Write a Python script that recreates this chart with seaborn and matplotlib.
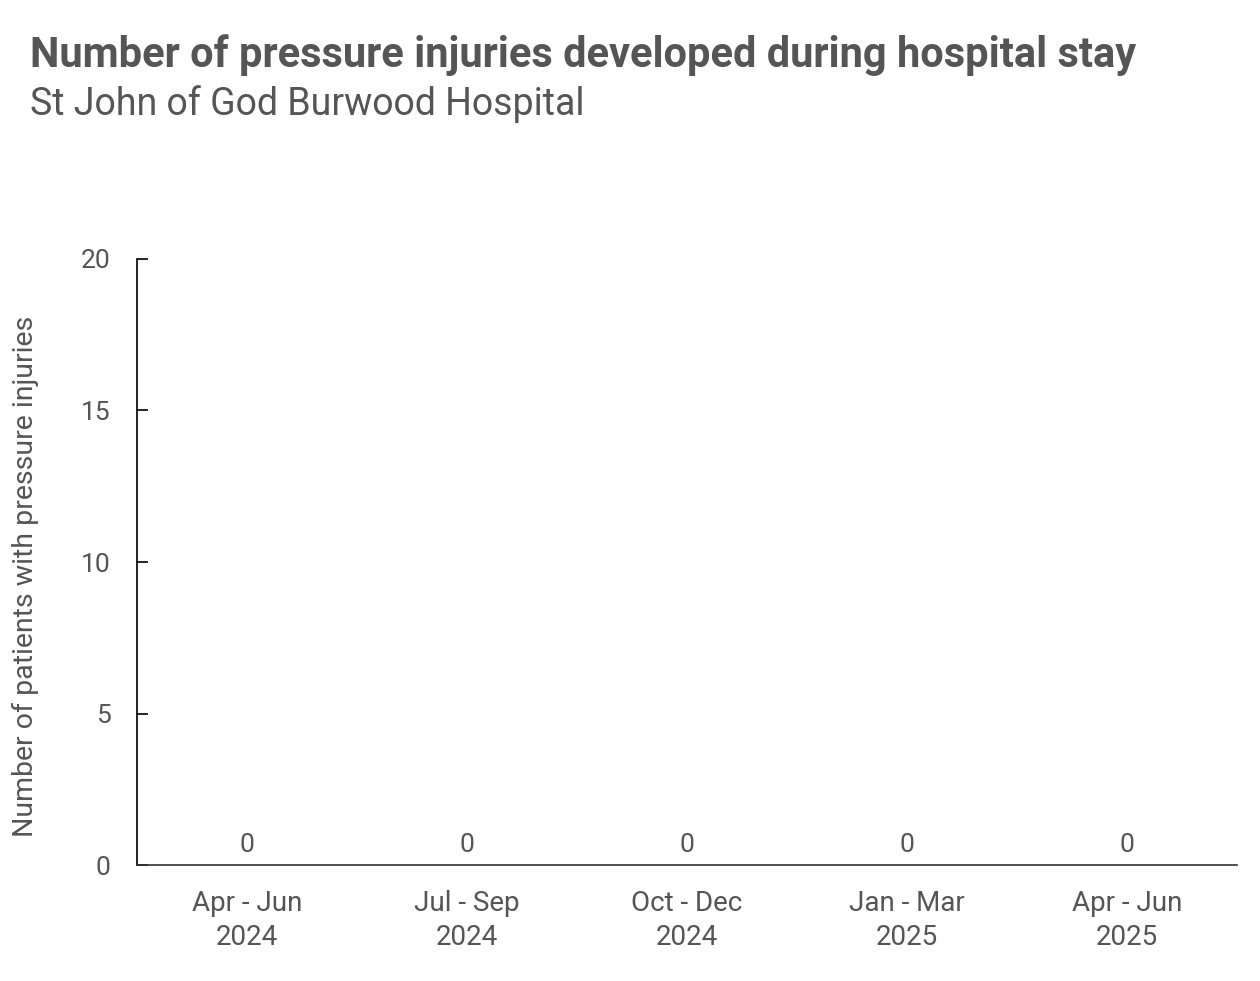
import matplotlib
matplotlib.use("Agg")
import matplotlib.pyplot as plt
import seaborn as sns
import pandas as pd

categories = ["Apr - Jun\n2024", "Jul - Sep\n2024", "Oct - Dec\n2024", "Jan - Mar\n2025", "Apr - Jun\n2025"]
values = [0, 0, 0, 0, 0]
yticks = [0, 5, 10, 15, 20]

title = "Number of pressure injuries developed during hospital stay"
subtitle = "St John of God Burwood Hospital"
ylabel = "Number of patients with pressure injuries"

sns.set_theme(style="white")
plt.rcParams['font.family'] = ['Roboto', 'DejaVu Sans']
txt = "#555555"

df = pd.DataFrame({"period": categories, "count": values})

fig = plt.figure(figsize=(12.6, 9.81), dpi=100)
ax = fig.add_axes([0.1087, 0.1182, 0.873, 0.6178])
sns.barplot(data=df, x="period", y="count", ax=ax, color="#5b8fbf", width=0.6)

ax.set_ylim(0, 20)
ax.set_yticks(yticks)
ax.set_yticklabels([str(t) for t in yticks], fontsize=19, color=txt)
ax.tick_params(axis="y", left=True, direction="in", length=8, width=1.2, color="black", pad=19)
ax.tick_params(axis="x", bottom=False, length=0, pad=18, labelsize=20, labelcolor=txt)
for lbl in ax.get_xticklabels():
    lbl.set_linespacing(1.32)
ax.set_xlabel("")
ax.set_ylabel(ylabel, fontsize=20.5, color=txt)
ax.yaxis.set_label_coords(-0.089, 0.477)

for s in ["top", "right"]:
    ax.spines[s].set_visible(False)
ax.spines["left"].set_color("black")
ax.spines["left"].set_linewidth(1.2)
ax.spines["bottom"].set_color("#333333")
ax.spines["bottom"].set_linewidth(1.2)

for container in ax.containers:
    ax.bar_label(container, labels=[str(v) for v in values], padding=6, fontsize=19, color=txt)

fig.text(0.024, 0.944, title, fontsize=30, fontweight="bold", color=txt, va="center")
fig.text(0.024, 0.894, subtitle, fontsize=27, color=txt, va="center")

fig.savefig("out.png", dpi=100, facecolor="white")
